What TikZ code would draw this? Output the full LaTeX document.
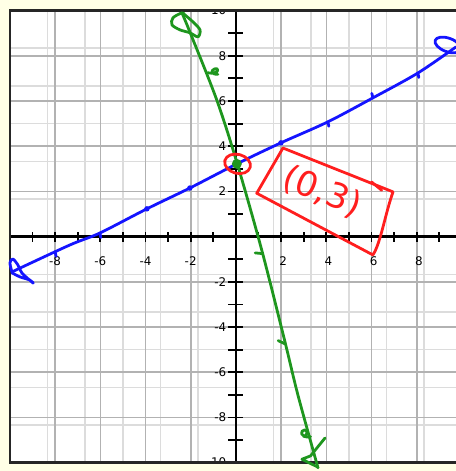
\documentclass[tikz,border=0pt]{standalone}
\usepackage{fontspec}
\setmainfont{DejaVu Sans}
\definecolor{paper}{RGB}{255,255,230}
\definecolor{minorgray}{RGB}{220,220,220}
\definecolor{majorgray}{RGB}{178,178,178}
\definecolor{inkblue}{RGB}{20,20,255}
\definecolor{inkgreen}{RGB}{30,150,30}
\definecolor{inkred}{RGB}{255,30,30}

\begin{document}
\begin{tikzpicture}[x=0.6cm, y=0.6cm,
    pen/.style={line width=2.1pt, line cap=round, line join=round},
    bluepen/.style={pen, inkblue},
    greenpen/.style={pen, inkgreen},
    redpen/.style={pen, inkred},
    ticklabel/.style={font=\fontsize{9}{10}\selectfont, inner sep=0pt, anchor=east}]

    % Paper and page size
    \fill[paper] (-10.44,-10.37) rectangle (9.73,10.47);
    \useasboundingbox (-10.44,-10.37) rectangle (9.73,10.47);

    \begin{scope}
    \clip (-10,-10) rectangle (10,10);
    \fill[white] (-10,-10) rectangle (10,10);

    % Grid
    \draw[minorgray, line width=1.2pt] (-10,-10) grid (10,10);
    \draw[majorgray, line width=1.2pt, step=2] (-10,-10) grid (10,10);

    % Coordinate axes
    \draw[line width=1.8pt] (-10,0) -- (10,0);
    \draw[line width=1.8pt] (0,-10) -- (0,10);
    \foreach \t in {-9,...,9} {
        \draw[line width=1.4pt] (\t,-0.22) -- (\t,0.22);
        \draw[line width=1.4pt] (-0.33,\t) -- (0.33,\t);
    }

    % Tick labels
    \foreach \t in {-8,-6,-4,-2,2,4,6,8}
        \node[ticklabel] (xlab\t) at (\t+0.27,-1.07) {\t};
    \foreach \t in {-10,-8,-6,-4,-2,2,4,6,8,10}
        \node[ticklabel] (ylab\t) at (-0.42,\t) {\t};
    \end{scope}

    % Frame
    \draw[line width=1.8pt, black!85] (-10,-10) rectangle (10,10);

    % Blue line y = x/2 + 3
    \draw[bluepen] plot[smooth] coordinates {(-9.91,-1.56) (-7.35,-0.37) (-6.02,0.16) (-3.94,1.23) (-2.04,2.15) (0.04,3.22) (1.99,4.15) (4.07,5.08) (6.06,6.14) (8.05,7.24) (9.73,8.39)};
    \draw[bluepen] plot[smooth] coordinates {(-9.91,-1.56) (-10.0,-1.16) (-9.87,-0.99) (-9.65,-1.25) (-9.47,-1.61) (-8.98,-2.05) (-9.12,-1.92) (-9.56,-1.78) (-9.91,-1.6)};
    \draw[bluepen, rotate around={-20:(9.38,8.48)}] (9.38,8.48) ellipse (0.6 and 0.3);
    \foreach \a/\b in {-8/-0.67, -6.02/0.16, 4.07/5.08, 8.05/7.24}
        \draw[bluepen] (\a,\b) -- ++(0.04,-0.2);
    \draw[bluepen] (6.06,6.14) -- ++(-0.05,0.2);
    \foreach \a/\b in {-3.94/1.23, -2.04/2.15, 1.99/4.15}
        \fill[inkblue] (\a,\b) circle (0.12);

    % Green line y = -4x + 3
    \draw[greenpen] plot[smooth] coordinates {(-2.39,9.9) (-2.04,9.06) (-0.85,6.05) (0.06,3.22) (1.14,-0.59) (2.17,-4.66) (2.74,-7.0) (3.63,-10.23)};
    \draw[greenpen] plot[smooth cycle] coordinates {(-2.39,9.9) (-2.79,9.68) (-2.83,9.37) (-2.48,9.15) (-2.04,9.02) (-1.68,8.84) (-1.59,9.15) (-1.9,9.5) (-2.26,9.81)};
    \draw[greenpen] (3.94,-8.91) -- (3.3,-9.7) -- (2.92,-9.85) -- (3.63,-10.2);
    \draw[greenpen] (-1.25,7.25) .. controls (-0.75,7.15) and (-0.7,7.5) .. (-0.95,7.42) .. controls (-1.15,7.35) and (-1.05,7.15) .. (-0.8,7.18);
    \draw[greenpen] (0.85,-0.72) -- (1.17,-0.75);
    \draw[greenpen] (1.87,-4.6) -- (2.18,-4.75);
    \draw[greenpen] (3.3,-8.85) .. controls (2.85,-8.95) and (2.8,-8.55) .. (3.05,-8.55) .. controls (3.2,-8.6) and (3.15,-8.8) .. (3.0,-8.85);
    \fill[inkgreen] (0.04,3.22) circle (0.22);

    % Red marks
    \draw[redpen, rotate around={-15:(0.07,3.22)}] (0.07,3.22) ellipse (0.58 and 0.42);
    \draw[redpen] (2.08,3.92) -- (6.95,1.98) .. controls (6.6,1.0) and (6.4,-0.3) .. (6.06,-0.81) -- (0.92,1.92) -- cycle;
    \draw[redpen] (6.0,2.42) -- (6.45,2.05);
    \node[inkred, rotate=-22, font=\fontsize{26}{30}\selectfont] (point) at (3.81,1.98) {(0,3)};
\end{tikzpicture}
\end{document}
